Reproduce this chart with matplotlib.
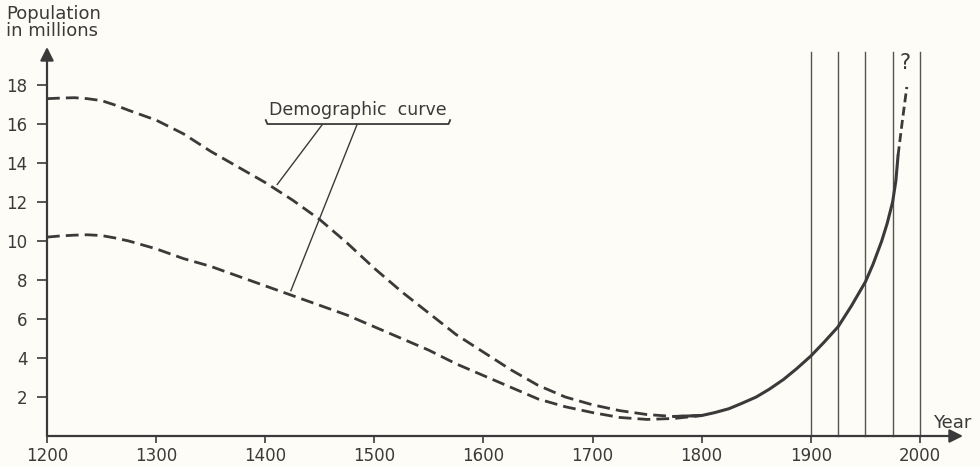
"""Demographic curve, 1200-2000 (scanned textbook figure redrawn)."""
import matplotlib
matplotlib.use('Agg')
import matplotlib.pyplot as plt

plt.rcParams['font.family'] = ['DejaVu Sans']

INK = '#3a3a3a'
BG = '#fdfcf6'

# ---- data ----
upper_years = [1200, 1212, 1225, 1237, 1250, 1262, 1275, 1300, 1325, 1350, 1375,
               1400, 1425, 1450, 1475, 1500, 1525, 1550, 1575, 1600, 1625, 1650,
               1675, 1700, 1725, 1750, 1775, 1800]
upper_pop = [17.3, 17.33, 17.35, 17.3, 17.2, 16.98, 16.7, 16.2, 15.5, 14.6, 13.8,
             13.0, 12.1, 11.1, 9.9, 8.6, 7.4, 6.3, 5.2, 4.3, 3.4, 2.6,
             2.0, 1.6, 1.3, 1.1, 1.0, 1.05]

lower_years = [1200, 1212, 1225, 1237, 1250, 1262, 1275, 1300, 1325, 1350, 1375,
               1400, 1425, 1450, 1475, 1500, 1525, 1550, 1575, 1600, 1625, 1650,
               1675, 1700, 1725, 1750, 1775, 1800]
lower_pop = [10.2, 10.26, 10.3, 10.32, 10.28, 10.16, 10.0, 9.6, 9.1, 8.7, 8.2,
             7.7, 7.2, 6.7, 6.2, 5.6, 5.0, 4.4, 3.7, 3.1, 2.5, 1.9,
             1.5, 1.2, 0.95, 0.85, 0.9, 1.05]

known_years = [1775, 1800, 1812, 1825, 1837, 1850, 1862, 1875, 1887, 1900, 1912,
               1925, 1937, 1950, 1957, 1965, 1970, 1975, 1978, 1980]
known_pop = [1.0, 1.05, 1.2, 1.4, 1.68, 2.0, 2.4, 2.9, 3.45, 4.1, 4.8,
             5.6, 6.65, 7.9, 8.8, 10.0, 10.9, 12.0, 13.1, 14.4]

future_years = [1980, 1984, 1988]
future_pop = [14.4, 16.2, 17.9]

marker_years = [1900, 1925, 1950, 1975, 2000]

x_ticks = [1200, 1300, 1400, 1500, 1600, 1700, 1800, 1900, 2000]
y_ticks = [2, 4, 6, 8, 10, 12, 14, 16, 18]

# ---- figure ----
fig = plt.figure(figsize=(9.8, 4.67), dpi=100, facecolor=BG)
ax = fig.add_axes([47 / 980, 31 / 467, 916 / 980, 389 / 467])
ax.set_facecolor(BG)
ax.set_xlim(1200, 2039.5)
ax.set_ylim(0, 19.95)
for s in ax.spines.values():
    s.set_visible(False)

# axes with arrow heads
arrow = dict(arrowstyle='-|>', color=INK, lw=1.6, mutation_scale=20,
             shrinkA=0, shrinkB=0)
ax.annotate('', xy=(1200, 19.95), xytext=(1200, 0), arrowprops=arrow,
            annotation_clip=False)
ax.annotate('', xy=(2039.5, 0), xytext=(1200, 0), arrowprops=arrow,
            annotation_clip=False)

ax.set_xticks(x_ticks)
ax.set_yticks(y_ticks)
ax.tick_params(axis='y', direction='out', length=7, width=1.2, color=INK,
               labelsize=12, labelcolor=INK, pad=7)
ax.tick_params(axis='x', direction='out', length=5, width=1.2, color=INK,
               labelsize=12, labelcolor=INK, pad=3)

# vertical reference lines
for yr in marker_years:
    ax.plot([yr, yr], [0, 19.7], color='#555555', lw=1.0, clip_on=False)

dash = (0, (4.6, 2.2))
ax.plot(upper_years, upper_pop, color=INK, lw=2.0, ls=dash, clip_on=False)
ax.plot(lower_years, lower_pop, color=INK, lw=2.0, ls=dash, clip_on=False)
ax.plot(known_years, known_pop, color=INK, lw=2.2, solid_capstyle='round')
ax.plot(future_years, future_pop, color=INK, lw=2.0, ls=(0, (3.2, 1.6)),
        clip_on=False)
ax.text(1986, 18.6, '?', fontsize=15, color=INK, ha='center', va='bottom')

# label with underline and pointers
ax.text(1485, 16.25, 'Demographic  curve', fontsize=12.5, color=INK,
        ha='center', va='bottom')
ax.plot([1400.5, 1402, 1568, 1569.5], [16.2, 16.0, 16.0, 16.2],
        color=INK, lw=1.3)
ax.plot([1452, 1411], [15.95, 12.9], color=INK, lw=1.0)
ax.plot([1484, 1423.5], [15.95, 7.45], color=INK, lw=1.0)

# axis titles
fig.text(6 / 980, 1 - 5 / 467, 'Population\nin millions', fontsize=13,
         color=INK, ha='left', va='top', linespacing=0.95)
fig.text(952 / 980, 1 - 423 / 467, 'Year', fontsize=13, color=INK,
         ha='center', va='center')

fig.savefig('out.png', dpi=100, facecolor=BG)
